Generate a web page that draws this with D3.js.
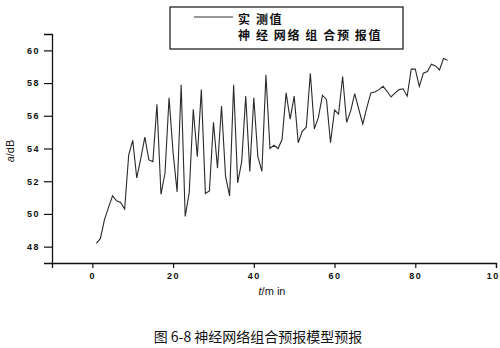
<!DOCTYPE html>
<html lang="zh">
<head>
    <meta charset="utf-8">
    <script src="https://d3js.org/d3.v7.min.js"></script>
    <style>
        body { margin: 0; background: #fff; }
        svg text { fill: #111; }
        .tick-label { font: bold 9px "Liberation Sans", Arial, sans-serif; letter-spacing: 1.5px; }
        .cjk { font-family: "Noto Sans CJK SC", sans-serif; }
    </style>
</head>
<body>
<script>
    const times = d3.range(1, 89);
    const measured = [
        48.2, 48.5, 49.65, 50.4, 51.1, 50.8, 50.7, 50.3, 53.6, 54.5,
        52.2, 53.4, 54.7, 53.3, 53.2, 56.7, 51.2, 52.5, 57.1, 53.75,
        51.35, 57.9, 49.85, 51.3, 56.4, 53.5, 57.6, 51.25, 51.4, 55.6,
        52.8, 56.6, 52.3, 51.1, 57.9, 51.9, 53.2, 57.2, 52.6, 57.1,
        53.5, 52.6, 58.5, 54.0, 54.2, 54.0, 54.55, 57.4, 55.8, 57.2,
        54.35, 55.05, 55.3, 58.6, 55.2, 55.9, 57.25, 57.0, 54.35, 56.35,
        56.1, 58.4, 55.6, 56.3, 57.35, 56.4, 55.5, 56.5, 57.4, 57.45,
        57.6, 57.8, 57.5, 57.15, 57.4, 57.6, 57.65, 57.2, 58.85, 58.85,
        57.8, 58.6, 58.7, 59.15, 59.05, 58.8, 59.5, 59.4
    ];
    const xTicks = [0, 20, 40, 60, 80, 100];
    const xMinor = [-10, 10, 30, 50, 70, 90];
    const yTicks = [48, 50, 52, 54, 56, 58, 60];
    const yMinor = [47, 49, 51, 53, 55, 57, 59, 61];
    const legendLabels = ["实 测值", "神 经 网络 组 合预 报值"];
    const caption = "图 6-8  神经网络组合预报模型预报";

    var svg = d3.select("body").append("svg")
        .attr("width", 500)
        .attr("height", 348);

    var x = d3.scaleLinear().domain([-10, 100]).range([52, 496]);
    var y = d3.scaleLinear().domain([47, 61]).range([263, 34]);

    // x axis
    var gx = svg.append("g").attr("transform", "translate(0,263)");
    gx.call(d3.axisBottom(x).tickValues(xMinor).tickSize(3).tickFormat(""));
    gx.call(d3.axisBottom(x).tickValues(xTicks).tickSize(5).tickFormat(d3.format("d")).tickPadding(5));
    gx.selectAll(".domain").attr("stroke", "#111").attr("stroke-width", 1.3);
    gx.selectAll("line").attr("stroke", "#111").attr("stroke-width", 1.2);
    gx.selectAll("text").attr("class", "tick-label").attr("fill", "#111");

    // y axis
    var gy = svg.append("g").attr("transform", "translate(52,0)");
    gy.call(d3.axisLeft(y).tickValues(yMinor).tickSize(4).tickFormat(""));
    gy.call(d3.axisLeft(y).tickValues(yTicks).tickSize(8).tickFormat(d3.format("d")).tickPadding(4));
    gy.selectAll(".domain").attr("stroke", "#111").attr("stroke-width", 1.3);
    gy.selectAll("line").attr("stroke", "#111").attr("stroke-width", 1.2);
    gy.selectAll("text").attr("class", "tick-label").attr("fill", "#111");

    // data line
    var line = d3.line()
        .x(function(d, i) { return x(times[i]); })
        .y(function(d) { return y(d); });

    svg.append("path")
        .datum(measured)
        .attr("fill", "none")
        .attr("stroke", "#2a2a2a")
        .attr("stroke-width", 1.1)
        .attr("d", line);

    // axis titles
    var xt = svg.append("text")
        .attr("x", 272).attr("y", 295)
        .attr("text-anchor", "middle")
        .style("font", "11px 'Liberation Sans', Arial, sans-serif");
    xt.append("tspan").style("font-style", "italic").text("t");
    xt.append("tspan").text("/m in");

    var yt = svg.append("text")
        .attr("transform", "translate(14,151) rotate(-90)")
        .attr("text-anchor", "middle")
        .style("font", "11px 'Liberation Sans', Arial, sans-serif");
    yt.append("tspan").style("font-style", "italic").text("a");
    yt.append("tspan").text("/dB");

    // legend
    var legend = svg.append("g");
    legend.append("rect")
        .attr("x", 170).attr("y", 7)
        .attr("width", 233).attr("height", 42)
        .attr("fill", "none")
        .attr("stroke", "#111")
        .attr("stroke-width", 1.2);
    legend.append("line")
        .attr("x1", 194).attr("x2", 233)
        .attr("y1", 17).attr("y2", 17)
        .attr("stroke", "#333");
    legend.selectAll("text.leg")
        .data(legendLabels)
        .enter()
        .append("text")
        .attr("class", "leg cjk")
        .attr("x", 238)
        .attr("y", function(d, i) { return 24 + i * 16; })
        .attr("xml:space", "preserve")
        .style("font-size", "12px")
        .style("font-weight", "bold")
        .style("letter-spacing", "1.6px")
        .text(function(d) { return d; });

    // caption
    svg.append("text")
        .attr("class", "cjk")
        .attr("x", 258).attr("y", 342)
        .attr("text-anchor", "middle")
        .style("font-size", "14px")
        .text(caption);
</script>
</body>
</html>
